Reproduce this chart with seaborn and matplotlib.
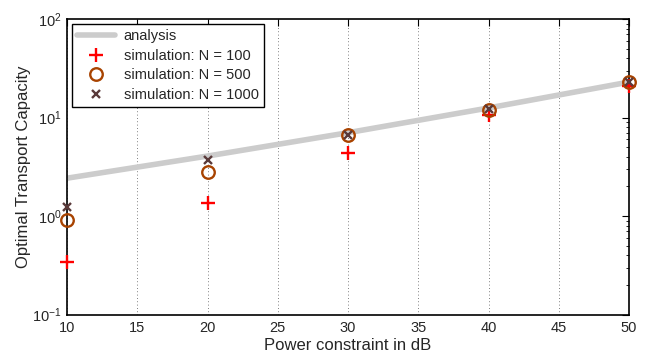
import matplotlib
matplotlib.use("Agg")
import matplotlib.pyplot as plt
import seaborn as sns
import numpy as np
import pandas as pd
from matplotlib.ticker import LogLocator, FixedLocator

# Data
power_db = [10, 20, 30, 40, 50]
analysis = [2.42, 4.06, 7.01, 12.5, 22.9]
sim_n100 = [0.344, 1.35, 4.33, 10.6, 20.9]
sim_n500 = [0.91, 2.82, 6.64, 11.9, 22.8]
sim_n1000 = [1.22, 3.70, 6.70, 12.2, 22.9]
x_ticks = [10, 15, 20, 25, 30, 35, 40, 45, 50]

sns.set_style("white")
plt.rcParams['font.family'] = ['Liberation Sans', 'DejaVu Sans']
plt.rcParams['mathtext.fontset'] = 'custom'
plt.rcParams['mathtext.rm'] = 'Liberation Sans'
plt.rcParams['mathtext.it'] = 'Liberation Sans'

fig = plt.figure(figsize=(6.5, 3.56), dpi=100)
ax = fig.add_axes([67/650, 41.5/356, (629-67)/650, (314.5-19)/356])

df = pd.DataFrame({"x": power_db, "analysis": analysis, "n100": sim_n100,
                   "n500": sim_n500, "n1000": sim_n1000})

sns.lineplot(data=df, x="x", y="analysis", ax=ax, color="#cccccc", linewidth=4,
             label="analysis", zorder=2)
sns.lineplot(data=df, x="x", y="n100", ax=ax, color="#ff0000", marker="+", linestyle="",
             markersize=9.5, markeredgewidth=1.7, markeredgecolor="#ff0000",
             label="simulation: N = 100", zorder=3, clip_on=False)
sns.lineplot(data=df, x="x", y="n500", ax=ax, color="#a84300", marker="o", linestyle="",
             markersize=9, markeredgewidth=1.7, markerfacecolor="none", markeredgecolor="#a84300",
             label="simulation: N = 500", zorder=4, clip_on=False)
sns.lineplot(data=df, x="x", y="n1000", ax=ax, color="#5a3a3a", marker="x", linestyle="",
             markersize=6, markeredgewidth=1.7, markeredgecolor="#5a3a3a",
             label="simulation: N = 1000", zorder=5, clip_on=False)

ax.set_yscale("log")
ax.set_xlim(10, 50)
ax.set_ylim(0.1, 100)
ax.xaxis.set_major_locator(FixedLocator(x_ticks))
ax.yaxis.set_major_locator(LogLocator(base=10))
ax.yaxis.set_minor_locator(LogLocator(base=10, subs=np.arange(2, 10)))

ax.set_xlabel("Power constraint in dB", fontsize=12, labelpad=2)
ax.set_ylabel("Optimal Transport Capacity", fontsize=12, labelpad=1)

ax.tick_params(axis="both", which="both", direction="in", top=True, right=True,
               labelsize=10.5, color="black")
ax.tick_params(axis="both", which="major", length=5, width=0.8)
ax.tick_params(axis="x", which="major", pad=5)
ax.tick_params(axis="y", which="major", pad=4)
ax.tick_params(axis="y", which="minor", length=2.5, width=0.6)
for s in ax.spines.values():
    s.set_visible(True)
    s.set_color("black")
    s.set_linewidth(1.2)

ax.grid(False)
ax.xaxis.grid(True, linestyle=(0, (1, 3)), color="#555555", linewidth=0.6)
ax.set_axisbelow(True)

leg = ax.legend(loc="upper left", fontsize=10.5, frameon=True, fancybox=False,
                edgecolor="black", framealpha=1, numpoints=1, handlelength=2.6,
                borderaxespad=0.35, borderpad=0.35, labelspacing=0.38, handletextpad=0.6)
leg.get_frame().set_linewidth(1.0)

fig.savefig("out.png", dpi=100, facecolor="white")
